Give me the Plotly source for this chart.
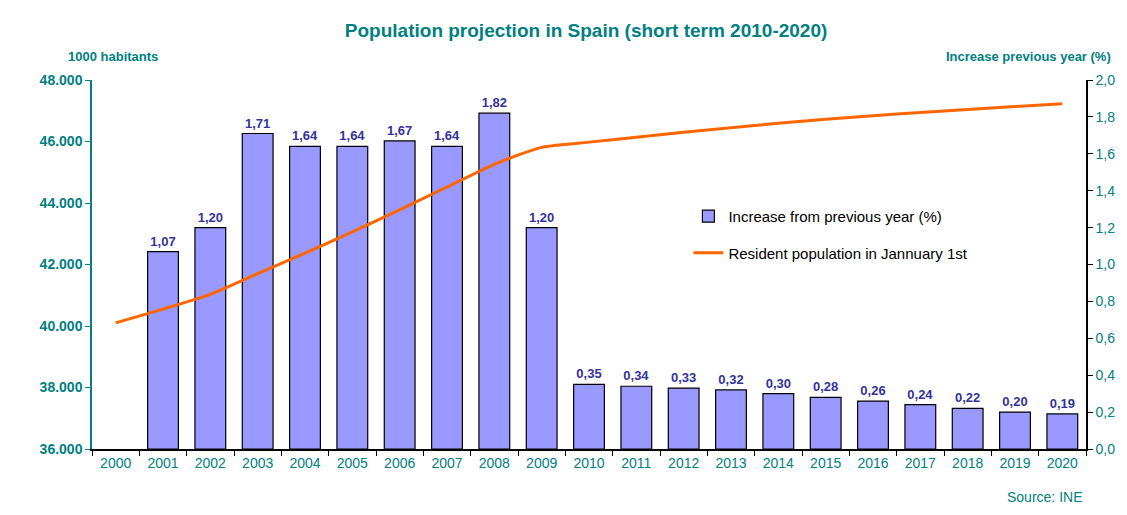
import plotly.graph_objects as go

# data
years = [str(y) for y in range(2000, 2021)]
increase_pct = [None, 1.07, 1.20, 1.71, 1.64, 1.64, 1.67, 1.64, 1.82, 1.20,
                0.35, 0.34, 0.33, 0.32, 0.30, 0.28, 0.26, 0.24, 0.22, 0.20, 0.19]
population = [40100, 40550, 41030, 41700, 42370, 43060, 43780, 44520, 45260, 45810,
              45980, 46140, 46300, 46450, 46590, 46720, 46840, 46940, 47040, 47140, 47230]

TEAL = "#008080"
FONT = "Liberation Sans"

bar_text = ["" if v is None else f"{v:.2f}".replace(".", ",") for v in increase_pct]

fig = go.Figure()

fig.add_trace(go.Bar(
    x=years,
    y=increase_pct,
    name="Increase from previous year (%)",
    marker=dict(color="#9999FF", line=dict(color="black", width=1.2)),
    width=0.65,
    text=bar_text,
    textposition="outside",
    constraintext="none",
    textfont=dict(family=FONT, size=13, color="#333399", weight="bold"),
    cliponaxis=False,
    yaxis="y",
    legendgroup="a",
))

fig.add_trace(go.Scatter(
    x=years,
    y=population,
    name="Resident population in Jannuary 1st",
    mode="lines",
    line=dict(color="#FF6600", width=3, shape="spline", smoothing=0.6),
    yaxis="y2",
    legendgroup="b",
))

# the page body has an 8px margin, so the figure is a bit smaller than the window
fig.update_layout(
    width=1119,
    height=507,
    margin=dict(l=84, r=41, t=72, b=66),
    paper_bgcolor="white",
    plot_bgcolor="white",
    separators=",.",
    font=dict(family=FONT, color=TEAL),
    showlegend=True,
    legend=dict(
        x=0.6, y=0.675, xanchor="left", yanchor="top",
        bgcolor="rgba(0,0,0,0)",
        font=dict(family=FONT, size=15, color="black"),
        traceorder="grouped",
        tracegroupgap=14,
    ),
    xaxis=dict(
        type="category",
        showline=True, linecolor="black", linewidth=1.5,
        ticks="outside", tickson="boundaries", ticklen=5, tickcolor="black",
        tickfont=dict(family=FONT, size=14, color=TEAL),
        showgrid=False,
    ),
    yaxis=dict(
        side="right",
        range=[0, 2.0], dtick=0.2, tickformat=".1f",
        showline=True, linecolor="black", linewidth=1.5,
        ticks="outside", ticklen=5, tickcolor="black",
        tickfont=dict(family=FONT, size=14, color=TEAL),
        showgrid=False, zeroline=False,
    ),
    yaxis2=dict(
        side="left", overlaying="y",
        range=[36000, 48000], dtick=2000, tickformat=",d",
        showline=True, linecolor=TEAL, linewidth=1.5,
        ticks="outside", ticklen=5, tickcolor=TEAL,
        tickfont=dict(family=FONT, size=14, color=TEAL, weight="bold"),
        showgrid=False, zeroline=False,
    ),
    title=dict(
        text="Population projection in Spain (short term 2010-2020)",
        xref="container", yref="container",
        x=0.5166, xanchor="center", y=0.955, yanchor="middle",
        font=dict(family=FONT, size=19, color=TEAL, weight="bold"),
    ),
    annotations=[
        dict(text="1000 habitants", xref="paper", yref="paper",
             x=-0.026, y=1.065, xanchor="left", yanchor="middle", showarrow=False,
             font=dict(family=FONT, size=13, color=TEAL, weight="bold")),
        dict(text="Increase previous year (%)", xref="paper", yref="paper",
             x=1.027, y=1.065, xanchor="right", yanchor="middle", showarrow=False,
             font=dict(family=FONT, size=13, color=TEAL, weight="bold")),
        dict(text="Source: INE", xref="paper", yref="paper",
             x=0.998, y=-0.13, xanchor="right", yanchor="middle", showarrow=False,
             font=dict(family=FONT, size=14, color=TEAL)),
    ],
)

fig.write_html("out.html")
